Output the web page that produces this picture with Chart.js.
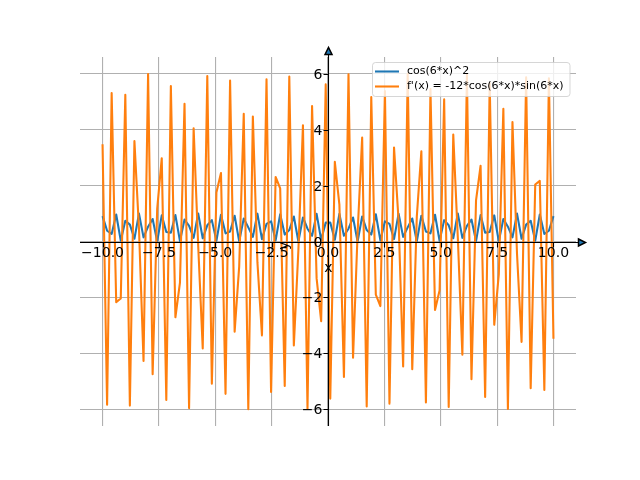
<!DOCTYPE html>
<html>
<head>
<meta charset="utf-8">
<script src="https://cdn.jsdelivr.net/npm/chart.js@4.4.1/dist/chart.umd.min.js"></script>
<style>
  html, body { margin: 0; padding: 0; background: #fff; }
  #wrap { width: 640px; height: 480px; }
</style>
</head>
<body>
<div id="wrap"><canvas id="chart" width="640" height="480"></canvas></div>
<script>
// sample positions along x
const xValues = [
    -10.000, -9.798, -9.596, -9.394, -9.192, -8.990, -8.788, -8.586, -8.384, -8.182,
    -7.980, -7.778, -7.576, -7.374, -7.172, -6.970, -6.768, -6.566, -6.364, -6.162,
    -5.960, -5.758, -5.556, -5.354, -5.152, -4.949, -4.747, -4.545, -4.343, -4.141,
    -3.939, -3.737, -3.535, -3.333, -3.131, -2.929, -2.727, -2.525, -2.323, -2.121,
    -1.919, -1.717, -1.515, -1.313, -1.111, -0.909, -0.707, -0.505, -0.303, -0.101,
    0.101, 0.303, 0.505, 0.707, 0.909, 1.111, 1.313, 1.515, 1.717, 1.919,
    2.121, 2.323, 2.525, 2.727, 2.929, 3.131, 3.333, 3.535, 3.737, 3.939,
    4.141, 4.343, 4.545, 4.747, 4.949, 5.152, 5.354, 5.556, 5.758, 5.960,
    6.162, 6.364, 6.566, 6.768, 6.970, 7.172, 7.374, 7.576, 7.778, 7.980,
    8.182, 8.384, 8.586, 8.788, 8.990, 9.192, 9.394, 9.596, 9.798, 10.000
];

// cos(6*x)^2
const cosSquared = [
    0.907, 0.384, 0.268, 0.966, 0.030, 0.742, 0.605, 0.100, 0.999, 0.149,
    0.530, 0.805, 0.010, 0.934, 0.337, 0.313, 0.946, 0.015, 0.785, 0.556,
    0.131, 1.000, 0.115, 0.580, 0.764, 0.022, 0.956, 0.291, 0.359, 0.921,
    0.006, 0.824, 0.506, 0.167, 0.996, 0.086, 0.628, 0.721, 0.039, 0.974,
    0.247, 0.408, 0.893, 0.001, 0.860, 0.457, 0.205, 0.988, 0.060, 0.675,
    0.675, 0.060, 0.988, 0.205, 0.457, 0.860, 0.001, 0.893, 0.408, 0.247,
    0.974, 0.039, 0.721, 0.628, 0.086, 0.996, 0.167, 0.506, 0.824, 0.006,
    0.921, 0.359, 0.291, 0.956, 0.022, 0.764, 0.580, 0.115, 1.000, 0.131,
    0.556, 0.785, 0.015, 0.946, 0.313, 0.337, 0.934, 0.010, 0.805, 0.530,
    0.149, 0.999, 0.100, 0.605, 0.742, 0.030, 0.966, 0.268, 0.384, 0.907
];

// f'(x)
const derivative = [
    3.48, -5.84, 5.31, -2.17, -2.04, 5.25, -5.87, 3.59, 0.45, -4.27,
    5.99, -4.75, 1.17, 2.98, -5.67, 5.56, -2.71, -1.47, 4.93, -5.96,
    4.05, -0.14, -3.83, 5.92, -5.09, 1.75, 2.45, -5.45, 5.76, -3.23,
    -0.89, 4.57, -6.00, 4.47, -0.74, -3.36, 5.80, -5.38, 2.31, 1.90,
    -5.17, 5.90, -3.72, -0.30, 4.16, -5.98, 4.85, -1.32, -2.85, 5.62,
    -5.62, 2.85, 1.32, -4.85, 5.98, -4.16, 0.30, 3.72, -5.90, 5.17,
    -1.90, -2.31, 5.38, -5.80, 3.36, 0.74, -4.47, 6.00, -4.57, 0.89,
    3.23, -5.76, 5.45, -2.45, -1.75, 5.09, -5.92, 3.83, 0.14, -4.05,
    5.96, -4.93, 1.47, 2.71, -5.56, 5.67, -2.98, -1.17, 4.75, -5.99,
    4.27, -0.45, -3.59, 5.87, -5.25, 2.04, 2.17, -5.31, 5.84, -3.48
];

const xTicks = [-10, -7.5, -5, -2.5, 0, 2.5, 5, 7.5, 10];
const xTickLabels = ['\u221210.0', '\u22127.5', '\u22125.0', '\u22122.5', '0.0', '2.5', '5.0', '7.5', '10.0'];
const yTicks = [-6, -4, -2, 0, 2, 4, 6];
const yTickLabels = ['\u22126', '\u22124', '\u22122', '0', '2', '4', '6'];
const seriesNames = ['cos(6*x)^2', "f'(x) = -12*cos(6*x)*sin(6*x)"];
const seriesColors = ['#1f77b4', '#ff7f0e'];

const tickFont = '14px "DejaVu Sans"';
const legendFont = '11px "DejaVu Sans"';

// spines through the origin, arrows, tick labels, axis labels and legend
const axesDecor = {
    id: 'axesDecor',
    afterDatasetsDraw(chart) {
        const ctx = chart.ctx;
        const area = chart.chartArea;
        const xs = chart.scales.x;
        const ys = chart.scales.y;
        const x0 = Math.round(xs.getPixelForValue(0)) + 0.5;
        const y0 = Math.round(ys.getPixelForValue(0)) + 0.5;

        ctx.save();
        ctx.strokeStyle = '#000';
        ctx.lineWidth = 1.1;
        ctx.beginPath();
        ctx.moveTo(area.left, y0);
        ctx.lineTo(area.right + 4, y0);
        ctx.moveTo(x0, area.bottom);
        ctx.lineTo(x0, area.top - 4);
        xTicks.forEach(v => {
            const px = Math.round(xs.getPixelForValue(v)) + 0.5;
            ctx.moveTo(px, y0);
            ctx.lineTo(px, y0 + 5);
        });
        yTicks.forEach(v => {
            const py = Math.round(ys.getPixelForValue(v)) + 0.5;
            ctx.moveTo(x0, py);
            ctx.lineTo(x0 - 5, py);
        });
        ctx.stroke();

        // arrow heads
        ctx.fillStyle = '#1f77b4';
        ctx.lineWidth = 1.5;
        ctx.lineJoin = 'miter';
        const ax = area.right + 6;
        ctx.beginPath();
        ctx.moveTo(ax - 3.5, y0 - 3.5);
        ctx.lineTo(ax + 3.5, y0);
        ctx.lineTo(ax - 3.5, y0 + 3.5);
        ctx.closePath();
        ctx.fill();
        ctx.stroke();
        const ay = area.top - 6;
        ctx.beginPath();
        ctx.moveTo(x0 - 3.5, ay + 3.5);
        ctx.lineTo(x0, ay - 3.5);
        ctx.lineTo(x0 + 3.5, ay + 3.5);
        ctx.closePath();
        ctx.fill();
        ctx.stroke();

        // tick labels
        ctx.fillStyle = '#000';
        ctx.font = tickFont;
        ctx.textBaseline = 'alphabetic';
        ctx.textAlign = 'center';
        xTicks.forEach((v, i) => {
            ctx.fillText(xTickLabels[i], xs.getPixelForValue(v), y0 + 14);
        });
        ctx.textAlign = 'right';
        yTicks.forEach((v, i) => {
            ctx.fillText(yTickLabels[i], x0 - 6, ys.getPixelForValue(v) + 5);
        });

        // axis labels
        ctx.textAlign = 'center';
        ctx.fillText('x', x0, y0 + 29);
        ctx.save();
        ctx.translate(x0 - 41, y0 + 3);
        ctx.rotate(-Math.PI / 2);
        ctx.fillText('y', 0, 0);
        ctx.restore();

        // legend
        const lx = 372.5, ly = 62.5, lw = 197.5, lh = 34, r = 3;
        ctx.beginPath();
        ctx.moveTo(lx + r, ly);
        ctx.lineTo(lx + lw - r, ly);
        ctx.quadraticCurveTo(lx + lw, ly, lx + lw, ly + r);
        ctx.lineTo(lx + lw, ly + lh - r);
        ctx.quadraticCurveTo(lx + lw, ly + lh, lx + lw - r, ly + lh);
        ctx.lineTo(lx + r, ly + lh);
        ctx.quadraticCurveTo(lx, ly + lh, lx, ly + lh - r);
        ctx.lineTo(lx, ly + r);
        ctx.quadraticCurveTo(lx, ly, lx + r, ly);
        ctx.closePath();
        ctx.fillStyle = 'rgba(255,255,255,0.8)';
        ctx.fill();
        ctx.strokeStyle = 'rgba(204,204,204,0.8)';
        ctx.lineWidth = 1;
        ctx.stroke();

        ctx.font = legendFont;
        ctx.textAlign = 'left';
        ctx.textBaseline = 'middle';
        seriesNames.forEach((name, i) => {
            const yy = 71.5 + i * 15;
            ctx.strokeStyle = seriesColors[i];
            ctx.lineWidth = 2.08;
            ctx.beginPath();
            ctx.moveTo(375, yy);
            ctx.lineTo(399, yy);
            ctx.stroke();
            ctx.fillStyle = '#000';
            ctx.fillText(name, 407, yy);
        });
        ctx.restore();
    }
};

const useTicks = list => scale => {
    scale.ticks = list.map(v => ({ value: v }));
};

new Chart(document.getElementById('chart'), {
    type: 'line',
    data: {
        datasets: [{
            label: seriesNames[0],
            data: xValues.map((x, i) => ({ x: x, y: cosSquared[i] })),
            borderColor: seriesColors[0],
            borderWidth: 2.08,
            borderJoinStyle: 'round',
            pointRadius: 0,
            tension: 0,
            order: 2
        }, {
            label: seriesNames[1],
            data: xValues.map((x, i) => ({ x: x, y: derivative[i] })),
            borderColor: seriesColors[1],
            borderWidth: 2.08,
            borderJoinStyle: 'round',
            pointRadius: 0,
            tension: 0,
            order: 1
        }]
    },
    options: {
        responsive: false,
        animation: false,
        events: [],
        layout: { padding: { left: 80, right: 64, top: 57, bottom: 54 } },
        plugins: {
            legend: { display: false },
            tooltip: { enabled: false }
        },
        scales: {
            x: {
                type: 'linear',
                position: { y: 0 },
                min: -11,
                max: 11,
                afterBuildTicks: useTicks(xTicks),
                ticks: { display: false },
                grid: { color: '#b0b0b0', lineWidth: 1.1, drawTicks: false },
                border: { display: false }
            },
            y: {
                type: 'linear',
                position: { x: 0 },
                min: -6.6,
                max: 6.6,
                afterBuildTicks: useTicks(yTicks),
                ticks: { display: false },
                grid: { color: '#b0b0b0', lineWidth: 1.1, drawTicks: false },
                border: { display: false }
            }
        }
    },
    plugins: [axesDecor]
});
</script>
</body>
</html>
